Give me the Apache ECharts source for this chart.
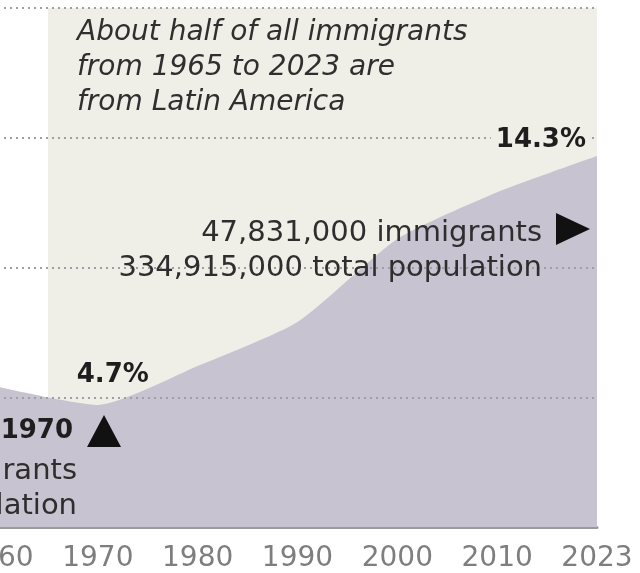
<!DOCTYPE html>
<html>
<head>
<meta charset="utf-8">
<script src="https://cdn.jsdelivr.net/npm/echarts@6/dist/echarts.min.js"></script>
<style>
  html, body { margin: 0; padding: 0; background: #ffffff; }
  #chart { width: 640px; height: 573px; }
</style>
</head>
<body>
<div id="chart"></div>
<script>
// Census years shown on the axis and the immigrant share of the U.S. population (%)
const years = [1960, 1970, 1980, 1990, 2000, 2010, 2023];
const shares = [5.4, 4.7, 6.2, 7.9, 11.1, 12.9, 14.3];
const yearLabels = ['1960', '1970', '1980', '1990', '2000', '2010', '2023'];
const gridValues = [5, 10, 15, 20];

// Highlighted period of Latin American immigration
const periodStart = 1965;
const periodEnd = 2023;

// Annotation texts
const noteLines = ['About half of all immigrants', 'from 1965 to 2023 are', 'from Latin America'];
const startYear = '1970';
const startLines = ['9,619,000 immigrants', '203,210,000 total population'];
const endLines = ['47,831,000 immigrants', '334,915,000 total population'];

// The axis places census years evenly; other years fall proportionally between them
function yearPos(y) {
  for (let i = 0; i < years.length - 1; i++) {
    if (y >= years[i] && y <= years[i + 1]) {
      return i + (y - years[i]) / (years[i + 1] - years[i]);
    }
  }
  return y < years[0] ? 0 : years.length - 1;
}

const areaData = years.map((y, i) => [yearPos(y), shares[i]]);

const chart = echarts.init(document.getElementById('chart'), null, { renderer: 'canvas' });

const textFont = 'DejaVu Sans';
const darkText = '#2e2e2e';
const bandColor = '#efeee7';

chart.setOption({
  animation: false,
  backgroundColor: '#ffffff',
  grid: { left: -2, right: 43, top: 8, bottom: 46, containLabel: false, outerBoundsMode: 'none' },
  xAxis: {
    type: 'value',
    min: 0,
    max: years.length - 1,
    interval: 1,
    axisLine: { show: true, lineStyle: { color: '#9a9a9a', width: 3 } },
    axisTick: { show: false },
    splitLine: { show: false },
    axisLabel: {
      show: true,
      showMinLabel: true,
      showMaxLabel: true,
      hideOverlap: false,
      margin: 18,
      fontFamily: textFont,
      fontSize: 28,
      color: '#7e7e7e',
      formatter: v => yearLabels[Math.round(v)] || ''
    }
  },
  yAxis: {
    type: 'value',
    min: 0,
    max: 20,
    interval: 5,
    axisLine: { show: false },
    axisTick: { show: false },
    axisLabel: { show: false },
    splitLine: { show: false }
  },
  series: [
    {
      // shaded 1965–2023 band
      type: 'line',
      data: [],
      z: 1,
      silent: true,
      markArea: {
        silent: true,
        itemStyle: { color: bandColor },
        data: [[{ xAxis: yearPos(periodStart), yAxis: 0 }, { xAxis: yearPos(periodEnd), yAxis: 20 }]]
      }
    },
    {
      // immigrant share area
      type: 'line',
      data: areaData,
      z: 2,
      smooth: 0.2,
      symbol: 'none',
      showSymbol: false,
      lineStyle: { width: 0 },
      areaStyle: { color: '#c8c3d0', opacity: 1 }
    },
    {
      // dotted gridlines drawn above the area
      type: 'line',
      data: [],
      z: 3,
      silent: true,
      markLine: {
        silent: true,
        symbol: ['none', 'none'],
        label: { show: false },
        lineStyle: { color: '#9e9ea6', width: 2, type: [2, 4] },
        data: gridValues.map(v => ({ yAxis: v }))
      }
    }
  ]
});

// Percentage callouts anchored to the 1970 and 2023 points
const firstIdx = 1;
const lastIdx = years.length - 1;
const pFirst = chart.convertToPixel({ gridIndex: 0 }, areaData[firstIdx]);
const pLast = chart.convertToPixel({ gridIndex: 0 }, areaData[lastIdx]);
const calloutFont = 'bold 26px "DejaVu Sans"';

chart.setOption({
  graphic: [
    {
      type: 'text', z: 100,
      style: {
        x: pFirst[0] + 15, y: pFirst[1] - 17,
        text: shares[firstIdx] + '%', font: calloutFont, fill: '#1e1e1e',
        align: 'center', verticalAlign: 'bottom'
      }
    },
    {
      type: 'text', z: 100,
      style: {
        x: pLast[0] - 9, y: pLast[1] - 3,
        text: shares[lastIdx] + '%', font: calloutFont, fill: '#1e1e1e',
        align: 'right', verticalAlign: 'bottom',
        backgroundColor: bandColor, padding: [0, 2, 0, 5]
      }
    },
    {
      type: 'text', z: 100,
      style: {
        x: 77, y: 15,
        text: noteLines.join('\n'), font: 'italic 28px "DejaVu Sans"',
        fill: '#2f2f2f', lineHeight: 35
      }
    },
    {
      type: 'text', z: 100,
      style: {
        x: 542, y: 216,
        text: endLines.join('\n'), font: '29px "DejaVu Sans"', fill: darkText,
        lineHeight: 35, align: 'right'
      }
    },
    {
      type: 'polygon', z: 100,
      shape: { points: [[556, 213], [590, 229], [556, 245]] },
      style: { fill: '#111111' }
    },
    {
      type: 'text', z: 100,
      style: {
        x: 73, y: 418,
        text: startYear, font: 'bold 26px "DejaVu Sans"', fill: '#1e1e1e',
        align: 'right'
      }
    },
    {
      type: 'polygon', z: 100,
      shape: { points: [[87, 447], [104, 415], [121, 447]] },
      style: { fill: '#111111' }
    },
    {
      type: 'text', z: 100,
      style: {
        x: 77, y: 454,
        text: startLines.join('\n'), font: '29px "DejaVu Sans"', fill: darkText,
        lineHeight: 35, align: 'right'
      }
    }
  ]
});
</script>
</body>
</html>
